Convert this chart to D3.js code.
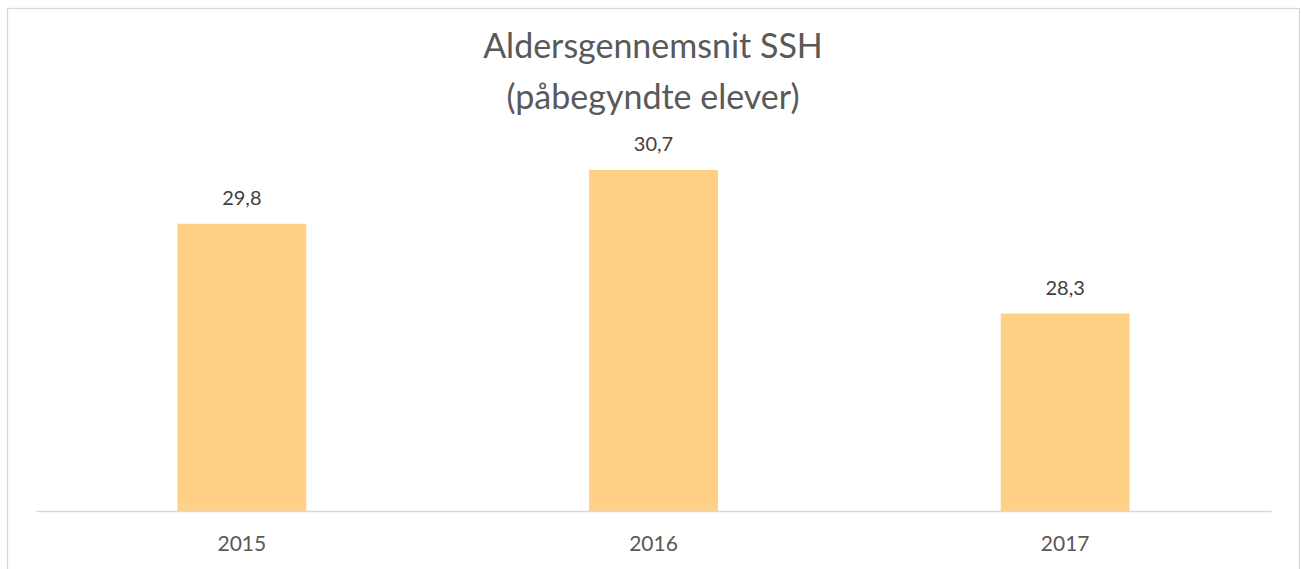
<!DOCTYPE html>
<html>
<head>
<meta charset="utf-8">
<script src="https://cdn.jsdelivr.net/npm/d3@7"></script>
<style>
  body { margin: 0; background: #fff; }
  svg { display: block; }
</style>
</head>
<body>
<div id="chart"></div>
<script>
var years = ["2015", "2016", "2017"];
var values = [29.8, 30.7, 28.3];
var titleLines = ["Aldersgennemsnit SSH", "(påbegyndte elever)"];

var W = 1301, H = 569;
var margin = { left: 36, right: 30, top: 152, bottom: 58 };

var svg = d3.select("#chart")
  .append("svg")
    .attr("width", W)
    .attr("height", H);

// outer frame (bottom edge runs past the window)
svg.append("rect")
  .attr("x", 7.5)
  .attr("y", 8.5)
  .attr("width", 1292)
  .attr("height", 600)
  .attr("fill", "#fff")
  .attr("stroke", "#d9d9d9")
  .attr("stroke-width", 1.3);

var x = d3.scaleBand()
  .domain(years)
  .range([margin.left, W - margin.right])
  .paddingInner(0.687)
  .paddingOuter(0.3435);

var y = d3.scaleLinear()
  .domain([25, 31])
  .range([H - margin.bottom, margin.top]);

// title
svg.append("text")
  .attr("x", 653)
  .attr("text-anchor", "middle")
  .attr("font-family", "Lato, 'Open Sans', sans-serif")
  .attr("font-size", 34)
  .attr("fill", "#595959")
  .selectAll("tspan")
  .data(titleLines)
  .enter()
  .append("tspan")
    .attr("x", 653)
    .attr("y", function(d, i) { return 58 + i * 51; })
    .text(function(d) { return d; });

// bars
svg.selectAll("rect.bar")
  .data(values)
  .enter()
  .append("rect")
    .attr("class", "bar")
    .attr("x", function(d, i) { return x(years[i]); })
    .attr("y", function(d) { return y(d); })
    .attr("width", x.bandwidth())
    .attr("height", function(d) { return y(25) - y(d); })
    .attr("fill", "#ffd086");

// value labels
svg.selectAll("text.val")
  .data(values)
  .enter()
  .append("text")
    .attr("class", "val")
    .attr("x", function(d, i) { return x(years[i]) + x.bandwidth() / 2; })
    .attr("y", function(d) { return y(d) - 19; })
    .attr("text-anchor", "middle")
    .attr("font-family", "Lato, 'Open Sans', sans-serif")
    .attr("font-size", 20)
    .attr("fill", "#404040")
    .text(function(d) { return d3.format(".1f")(d).replace(".", ","); });

// category axis
var xAxis = svg.append("g")
  .attr("transform", "translate(0," + y(25) + ")")
  .call(d3.axisBottom(x).tickSize(0).tickPadding(25));

xAxis.select(".domain")
  .attr("stroke", "#d9d9d9")
  .attr("stroke-width", 1.5);

xAxis.selectAll("text")
  .attr("font-family", "Lato, 'Open Sans', sans-serif")
  .attr("font-size", 21)
  .attr("fill", "#595959");
</script>
</body>
</html>
